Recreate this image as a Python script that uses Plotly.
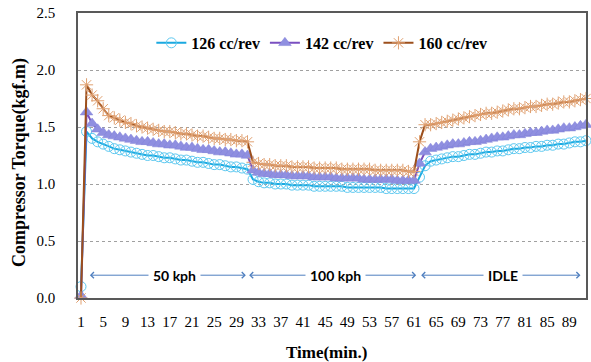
import plotly.graph_objects as go

time_min = list(range(1, 93))

torque_126 = [0.10,
    1.46, 1.40, 1.37, 1.35, 1.33, 1.31, 1.30, 1.29, 1.28, 1.27,
    1.26, 1.25, 1.25, 1.24, 1.23, 1.23, 1.22, 1.21, 1.21, 1.20,
    1.19, 1.19, 1.18, 1.17, 1.17, 1.16, 1.15, 1.15, 1.14, 1.13,
    1.04, 1.02, 1.01, 1.01, 1.00, 1.00, 1.00, 0.99, 0.99, 0.99,
    0.99, 0.98, 0.98, 0.98, 0.98, 0.98, 0.98, 0.97, 0.97, 0.97,
    0.97, 0.97, 0.97, 0.97, 0.96, 0.96, 0.96, 0.96, 0.96, 0.96,
    1.06, 1.16, 1.20, 1.21, 1.22, 1.23, 1.24, 1.24, 1.25, 1.26,
    1.26, 1.27, 1.28, 1.28, 1.29, 1.29, 1.30, 1.31, 1.31, 1.32,
    1.32, 1.33, 1.33, 1.34, 1.34, 1.35, 1.35, 1.36, 1.37, 1.37, 1.38]

torque_142 = [0.02,
    1.63, 1.53, 1.48, 1.45, 1.43, 1.42, 1.41, 1.40, 1.39, 1.38,
    1.37, 1.37, 1.36, 1.35, 1.35, 1.34, 1.34, 1.33, 1.32, 1.32,
    1.31, 1.30, 1.30, 1.29, 1.28, 1.28, 1.27, 1.26, 1.26, 1.25,
    1.12, 1.10, 1.09, 1.09, 1.08, 1.08, 1.08, 1.07, 1.07, 1.07,
    1.07, 1.06, 1.06, 1.06, 1.06, 1.05, 1.05, 1.05, 1.05, 1.05,
    1.04, 1.04, 1.04, 1.04, 1.04, 1.04, 1.03, 1.03, 1.03, 1.03,
    1.18, 1.28, 1.31, 1.32, 1.33, 1.34, 1.35, 1.35, 1.36, 1.37,
    1.37, 1.38, 1.39, 1.40, 1.41, 1.41, 1.42, 1.43, 1.43, 1.44,
    1.45, 1.45, 1.46, 1.47, 1.47, 1.48, 1.49, 1.49, 1.50, 1.51, 1.52]

torque_160 = [0.00,
    1.87, 1.78, 1.73, 1.66, 1.60, 1.58, 1.56, 1.54, 1.53, 1.51,
    1.50, 1.49, 1.48, 1.47, 1.46, 1.46, 1.45, 1.44, 1.44, 1.43,
    1.42, 1.42, 1.41, 1.40, 1.40, 1.39, 1.39, 1.38, 1.38, 1.37,
    1.19, 1.18, 1.17, 1.17, 1.16, 1.16, 1.16, 1.15, 1.15, 1.15,
    1.15, 1.14, 1.14, 1.14, 1.14, 1.14, 1.13, 1.13, 1.13, 1.13,
    1.13, 1.13, 1.12, 1.12, 1.12, 1.12, 1.12, 1.12, 1.11, 1.11,
    1.37, 1.52, 1.52, 1.53, 1.54, 1.55, 1.56, 1.57, 1.58, 1.59,
    1.60, 1.61, 1.62, 1.62, 1.63, 1.64, 1.65, 1.66, 1.66, 1.67,
    1.68, 1.68, 1.69, 1.70, 1.70, 1.71, 1.72, 1.72, 1.73, 1.74, 1.75]

tick_vals = list(range(1, 90, 4))
tick_text = [str(v) for v in tick_vals]

# phase labels: (text, start, end, text centre)
phases = [("50 kph", 2.6, 30.7, 17.8),
          ("100 kph", 31.3, 61.4, 46.8),
          ("IDLE", 62.3, 91.0, 77.0)]
phase_y = 0.2

serif = "Liberation Serif"

fig = go.Figure()
fig.add_trace(go.Scatter(
    x=time_min, y=torque_126, name="126 cc/rev", mode="lines+markers",
    line=dict(color="#1aa9e0", width=2),
    marker=dict(symbol="circle-open", size=10, color="#5cc8f0", line=dict(width=1)),
    cliponaxis=False))
fig.add_trace(go.Scatter(
    x=time_min, y=torque_142, name="142 cc/rev", mode="lines+markers",
    line=dict(color="#7a4fc0", width=2),
    marker=dict(symbol="triangle-up", size=11, color="#8f8fe0",
                line=dict(width=0.5, color="#8080d8")),
    cliponaxis=False))
fig.add_trace(go.Scatter(
    x=time_min, y=torque_160, name="160 cc/rev", mode="lines+markers",
    line=dict(color="#9c4f1c", width=2),
    marker=dict(symbol="asterisk-open", size=11, color="#e0a070", line=dict(width=1, color="#d89a68")),
    cliponaxis=False))

arrow_color = "#4f7fbf"
for label, x0, x1, xc in phases:
    for xe in (x0, x1):
        fig.add_annotation(x=xe, y=phase_y, ax=xc, ay=phase_y, axref="x", ayref="y",
                           xref="x", yref="y", text="", showarrow=True,
                           arrowhead=4, arrowsize=1.2, arrowwidth=1, arrowcolor=arrow_color,
                           standoff=0, startstandoff=0)
for label, x0, x1, xc in phases:
    fig.add_annotation(x=xc, y=phase_y, xref="x", yref="y", text="<b>%s</b>" % label,
                       showarrow=False, bgcolor="white", borderpad=4,
                       font=dict(family="Lato", size=14, color="black"))

fig.add_annotation(x=-0.114, y=0.474, xref="paper", yref="paper", xanchor="center", yanchor="middle",
                   text="<b>Compressor Torque(kgf.m)</b>", textangle=-90, showarrow=False,
                   font=dict(family=serif, size=18, color="black"))
fig.add_annotation(x=0.49, y=-0.19, xref="paper", yref="paper", yanchor="middle",
                   text="<b>Time(min.)</b>", showarrow=False,
                   font=dict(family=serif, size=17, color="black"))

fig.update_layout(
    width=591, height=362,
    margin=dict(l=78, r=3, t=13, b=64),
    paper_bgcolor="white", plot_bgcolor="white",
    showlegend=True,
    legend=dict(orientation="h", x=0.48, xanchor="center", y=0.895, yanchor="middle",
                font=dict(family=serif, size=16, color="black", weight="bold"),
                itemwidth=30, bgcolor="rgba(0,0,0,0)", tracegroupgap=0),
    font=dict(family=serif, color="black"),
)
fig.update_xaxes(range=[0.46, 92.0], tickvals=tick_vals, ticktext=tick_text,
                 showgrid=False, zeroline=False, showline=True, mirror=True,
                 linecolor="#595959", linewidth=1.5, ticks="", ticklabelstandoff=9,
                 tickfont=dict(family=serif, size=15, color="black"))
fig.update_yaxes(range=[0, 2.5], dtick=0.5, tickformat=".1f",
                 showgrid=True, gridcolor="#a0a0a0", griddash="dot", gridwidth=1,
                 zeroline=False, showline=True, mirror=True,
                 linecolor="#595959", linewidth=1.5, ticks="", ticklabelstandoff=18,
                 tickfont=dict(family=serif, size=15, color="black"))

fig.write_html("out.html")
